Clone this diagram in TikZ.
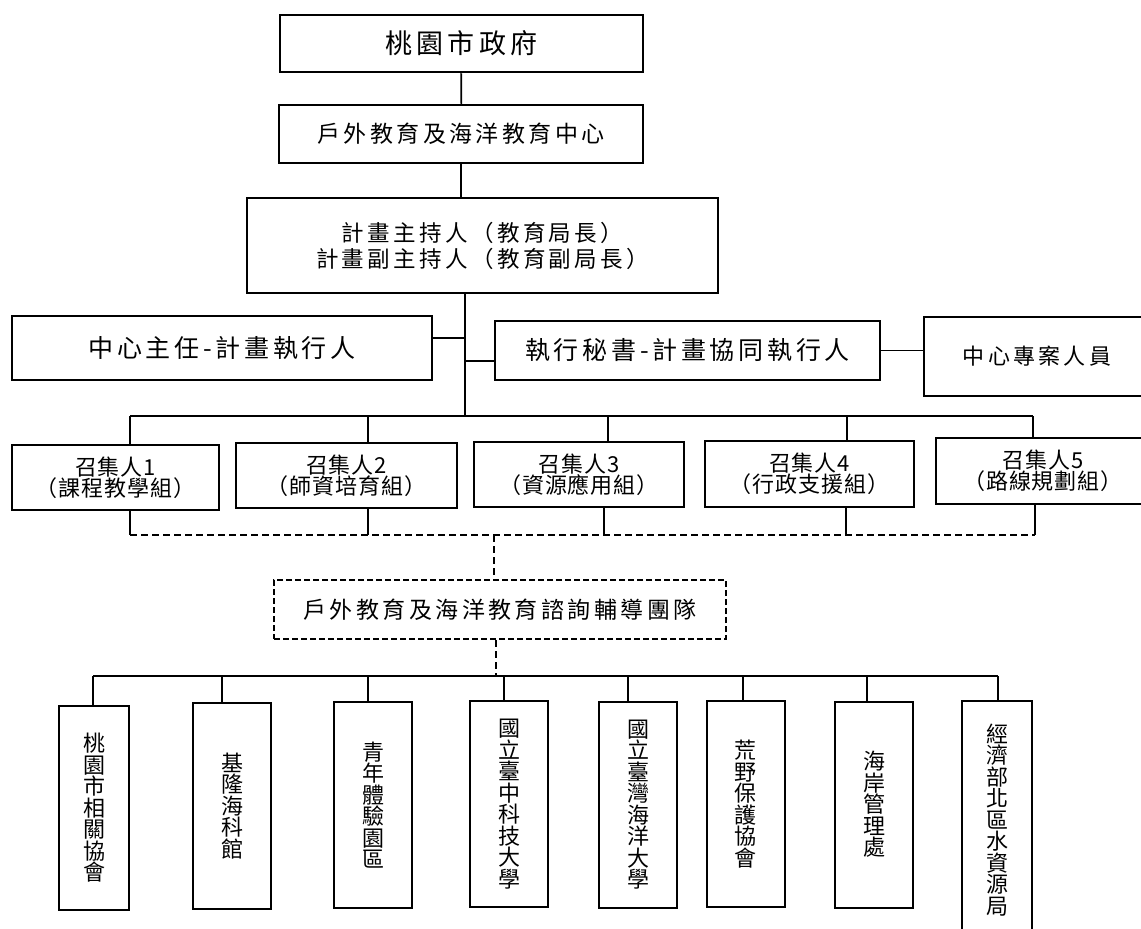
\documentclass[tikz,border=0pt]{standalone}
\usepackage{fontspec}
\setmainfont{Noto Sans CJK TC}
\newfontfamily\wideCJK[LetterSpace=15]{Noto Sans CJK TC}
\newfontfamily\midCJK[LetterSpace=4]{Noto Sans CJK TC}
\begin{document}
\begin{tikzpicture}
        [x=1pt, y=-1pt,
        box/.style={draw, line width=2.5pt, inner sep=0pt, align=center,
                font=\wideCJK\fontsize{23}{26}\selectfont},
        title/.style={box, font=\wideCJK\fontsize{27}{30}\selectfont},
        head/.style={box, font=\wideCJK\fontsize{25}{28}\selectfont},
        conv/.style={box, font=\midCJK\fontsize{22}{21}\selectfont},
        dashbox/.style={box, dash pattern=on 6pt off 3pt},
        vbox/.style={draw, line width=2pt, inner sep=0pt, align=center,
                minimum width=78pt, minimum height=206pt,
                font=\fontsize{22}{21.5}\selectfont},
        link/.style={line width=1.8pt},
        dashlink/.style={link, dash pattern=on 7pt off 4pt}]
        \path[use as bounding box, clip] (0,0) rectangle (1141,929);
        \node[title, minimum width=363pt, minimum height=57pt] (gov) at (461.5,43.5) {桃園市政府};
        \node[box, minimum width=364pt, minimum height=58pt] (centre) at (461,134) {戶外教育及海洋教育中心};
        \node[box, minimum width=471pt, minimum height=95pt, font=\wideCJK\fontsize{22.5}{26}\selectfont] (host) at (482.5,245.5)
                {計畫主持人（教育局長）\\計畫副主持人（教育副局長）};
        \node[head, minimum width=420pt, minimum height=64pt] (director) at (222,348) {中心主任-計畫執行人};
        \node[head, minimum width=385pt, minimum height=59pt] (secretary) at (687.5,350.5) {執行秘書-計畫協同執行人};
        \node[box, minimum width=226pt, minimum height=79pt, font=\wideCJK\fontsize{22}{26}\selectfont] (staff) at (1037,356.5) {中心專案人員};
        \node[conv, minimum width=207pt, minimum height=65pt] (conv1) at (115.5,477.5) {召集人1\\（課程教學組）};
        \node[conv, minimum width=221pt, minimum height=65pt] (conv2) at (346.5,475.5) {召集人2\\（師資培育組）};
        \node[conv, minimum width=210pt, minimum height=65pt] (conv3) at (579,474.5) {召集人3\\（資源應用組）};
        \node[conv, minimum width=209pt, minimum height=66pt] (conv4) at (809.5,474) {召集人4\\（行政支援組）};
        \node[conv, minimum width=214pt, minimum height=66pt] (conv5) at (1043,471) {召集人5\\（路線規劃組）};
        \node[dashbox, minimum width=452pt, minimum height=59pt] (team) at (500,609.5) {戶外教育及海洋教育諮詢輔導團隊};
        \node[vbox, minimum width=70pt, minimum height=204pt] (org1) at (94,808) {桃\\園\\市\\相\\關\\協\\會};
        \node[vbox] (org2) at (232,806) {基\\隆\\海\\科\\館};
        \node[vbox] (org3) at (373,805) {青\\年\\體\\驗\\園\\區};
        \node[vbox] (org4) at (509,804) {國\\立\\臺\\中\\科\\技\\大\\學};
        \node[vbox] (org5) at (638,804.5) {國\\立\\臺\\灣\\海\\洋\\大\\學};
        \node[vbox] (org6) at (745.5,804) {荒\\野\\保\\護\\協\\會};
        \node[vbox] (org7) at (874,804.5) {海\\岸\\管\\理\\處};
        \node[vbox, minimum width=70pt, minimum height=239pt] (org8) at (997,820) {經\\濟\\部\\北\\區\\水\\資\\源\\局};
        \coordinate (trunk) at (465,416);
        \coordinate (hub) at (494,535);
        \coordinate (base) at (496,676);
        \draw[link] (gov) -- (centre);
        \draw[link] (centre.south) -- (centre.south |- host.north);
        \draw[link] (host.south -| trunk) -- (trunk);
        \draw[link] ([yshift=10pt]director.east) -- ([yshift=10pt]director.east -| trunk);
        \draw[link] ([yshift=-10.5pt]secretary.west) -- ([yshift=-10.5pt]secretary.west -| trunk);
        \draw[link] (secretary.east) -- (secretary.east -| staff.west);
        \draw[link] ([xshift=14.5pt]conv1.north |- trunk) -- ([xshift=-10pt]conv5.north |- trunk);
        \foreach \n/\d in {conv1/14.5, conv2/21.5, conv3/29, conv4/37.5, conv5/-10}
                \draw[link] ([xshift=\d pt]\n.north |- trunk) -- ([xshift=\d pt]\n.north);
        \foreach \n/\d in {conv1/14.5, conv2/21.5, conv3/25, conv4/36.5, conv5/-8}
                \draw[link] ([xshift=\d pt]\n.south) -- ([xshift=\d pt]\n.south |- hub);
        \draw[dashlink] ([xshift=14.5pt]conv1.south |- hub) -- ([xshift=-8pt]conv5.south |- hub);
        \draw[dashlink] (hub) -- (team.north -| hub);
        \draw[dashlink] (team.south -| base) -- (base);
        \draw[link] ([xshift=-1pt]org1.north |- base) -- ([xshift=1pt]org8.north |- base);
        \foreach \n/\d in {org1/-1, org2/-10, org3/-5, org4/-5, org5/-10, org6/-2.5, org7/-7, org8/1}
                \draw[link] ([xshift=\d pt]\n.north |- base) -- ([xshift=\d pt]\n.north);
\end{tikzpicture}
\end{document}
